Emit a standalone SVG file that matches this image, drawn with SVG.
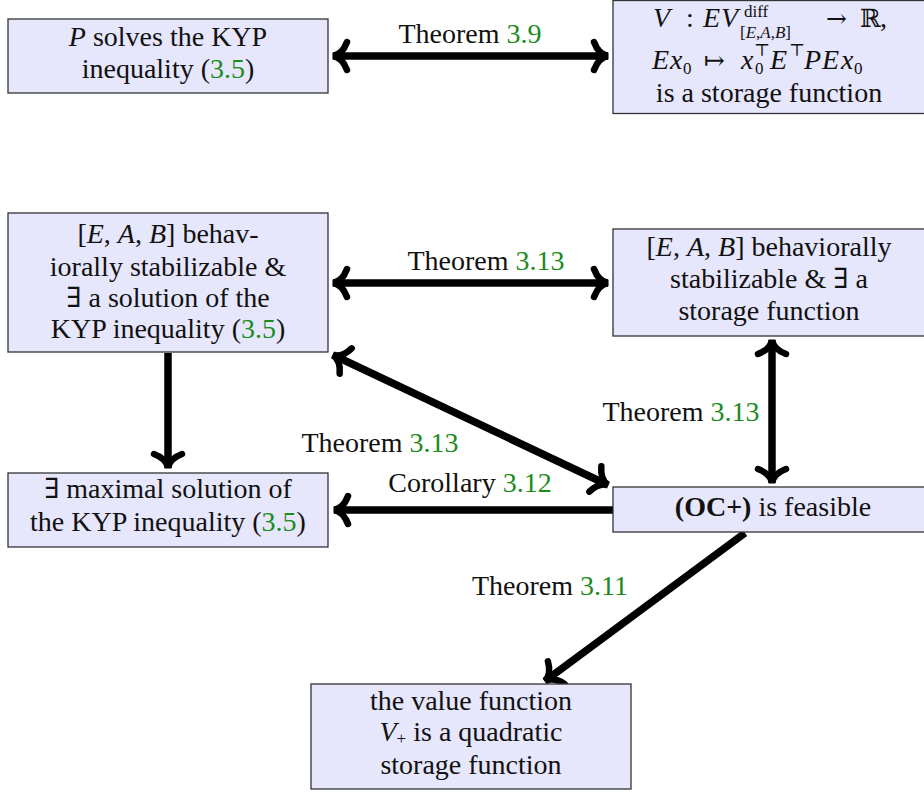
<svg xmlns="http://www.w3.org/2000/svg" width="924" height="797" viewBox="0 0 924 797">
<style>
.box{fill:#e6e6fc;stroke:#333;stroke-width:1.3}
text{font-family:"Liberation Serif","DejaVu Serif",serif;font-size:28px;fill:#111}
.c{text-anchor:middle}
.g{fill:#1a8c1a}
.i{font-style:italic}
.s{font-size:19px}
.t{font-size:17px}
.m{font-family:"DejaVu Serif",serif;font-size:25px}
.con{stroke:#000;stroke-width:7.5;fill:none}
</style>
<defs>
<marker id="ah" markerUnits="userSpaceOnUse" orient="auto-start-reverse" markerWidth="30" markerHeight="30" refX="0" refY="0" overflow="visible">
<path d="M -14 -14 C -11 -6 -6 -1 0 0 C -6 1 -11 6 -14 14" fill="none" stroke="#000" stroke-width="6.5" stroke-linecap="round"/>
</marker>
</defs>
<g id="connectors">
<line class="con" x1="333" y1="56" x2="608" y2="56" marker-start="url(#ah)" marker-end="url(#ah)"/>
<line class="con" x1="333" y1="283" x2="608" y2="283" marker-start="url(#ah)" marker-end="url(#ah)"/>
<line class="con" x1="168" y1="353" x2="168" y2="468" marker-end="url(#ah)"/>
<line class="con" x1="333" y1="355" x2="608" y2="485" marker-start="url(#ah)" marker-end="url(#ah)"/>
<line class="con" x1="772" y1="340" x2="772" y2="483" marker-start="url(#ah)" marker-end="url(#ah)"/>
<line class="con" x1="613" y1="510" x2="334" y2="510" marker-end="url(#ah)"/>
<line class="con" x1="745" y1="533" x2="545" y2="681" marker-end="url(#ah)"/>
<text class="c" x="470" y="43">Theorem <tspan class="g">3.9</tspan></text>
<text class="c" x="486" y="270">Theorem <tspan class="g">3.13</tspan></text>
<text class="c" x="380" y="452">Theorem <tspan class="g">3.13</tspan></text>
<text class="c" x="470" y="492">Corollary <tspan class="g">3.12</tspan></text>
<text class="c" x="681" y="421">Theorem <tspan class="g">3.13</tspan></text>
<text class="c" x="550" y="595">Theorem <tspan class="g">3.11</tspan></text>
</g>
<g id="n1">
<rect class="box" x="8" y="19" width="320" height="74"/>
<text class="c" x="168" y="46"><tspan class="i">P</tspan> solves the KYP</text>
<text class="c" x="168" y="78">inequality (<tspan class="g">3.5</tspan>)</text>
</g>
<g id="n2">
<rect class="box" x="613" y="0.5" width="312" height="113"/>
<text y="27"><tspan class="i" x="653">V</tspan><tspan x="686">:</tspan><tspan class="i" x="703">E</tspan><tspan class="i" x="721">V</tspan><tspan class="t" x="744" dy="-10">diff</tspan><tspan class="t" x="740" dy="21">[<tspan class="i">E</tspan>,<tspan class="i">A</tspan>,<tspan class="i">B</tspan>]</tspan><tspan class="m" x="826" dy="-11">→</tspan><tspan class="m" x="860">ℝ</tspan><tspan x="880">,</tspan></text>
<text y="69"><tspan class="i" x="652">E</tspan><tspan class="i" x="670">x</tspan><tspan class="t" x="683" dy="5">0</tspan><tspan class="m" x="704" dy="-5">↦</tspan><tspan class="i" x="741">x</tspan><tspan class="t" x="754" dy="-13">⊤</tspan><tspan class="t" x="755" dy="18">0</tspan><tspan class="i" x="770" dy="-5">E</tspan><tspan class="t" x="789" dy="-13">⊤</tspan><tspan class="i" x="804" dy="13">P</tspan><tspan class="i" x="822">E</tspan><tspan class="i" x="841">x</tspan><tspan class="t" x="854" dy="5">0</tspan></text>
<text class="c" x="769" y="102">is a storage function</text>
</g>
<g id="n3">
<rect class="box" x="8" y="213" width="320" height="139"/>
<text class="c" x="168" y="243">[<tspan class="i">E</tspan>, <tspan class="i">A</tspan>, <tspan class="i">B</tspan>] behav-</text>
<text class="c" x="168" y="276">iorally stabilizable &amp;</text>
<text class="c" x="168" y="307">∃ a solution of the</text>
<text class="c" x="168" y="338">KYP inequality (<tspan class="g">3.5</tspan>)</text>
</g>
<g id="n4">
<rect class="box" x="613" y="229" width="312" height="107"/>
<text class="c" x="769" y="256">[<tspan class="i">E</tspan>, <tspan class="i">A</tspan>, <tspan class="i">B</tspan>] behaviorally</text>
<text class="c" x="769" y="288">stabilizable &amp; ∃ a</text>
<text class="c" x="769" y="320">storage function</text>
</g>
<g id="n5">
<rect class="box" x="8" y="473" width="320" height="74"/>
<text class="c" x="168" y="498">∃ maximal solution of</text>
<text class="c" x="168" y="531">the KYP inequality (<tspan class="g">3.5</tspan>)</text>
</g>
<g id="n6">
<rect class="box" x="613" y="487" width="312" height="45"/>
<text class="c" x="773" y="516"><tspan font-weight="bold">(OC+)</tspan> is feasible</text>
</g>
<g id="n7">
<rect class="box" x="311" y="684" width="320" height="105"/>
<text class="c" x="471" y="710">the value function</text>
<text class="c" x="471" y="741"><tspan class="i">V</tspan><tspan class="t" dy="3">+</tspan><tspan dy="-3"> is a quadratic</tspan></text>
<text class="c" x="471" y="774">storage function</text>
</g>
</svg>
